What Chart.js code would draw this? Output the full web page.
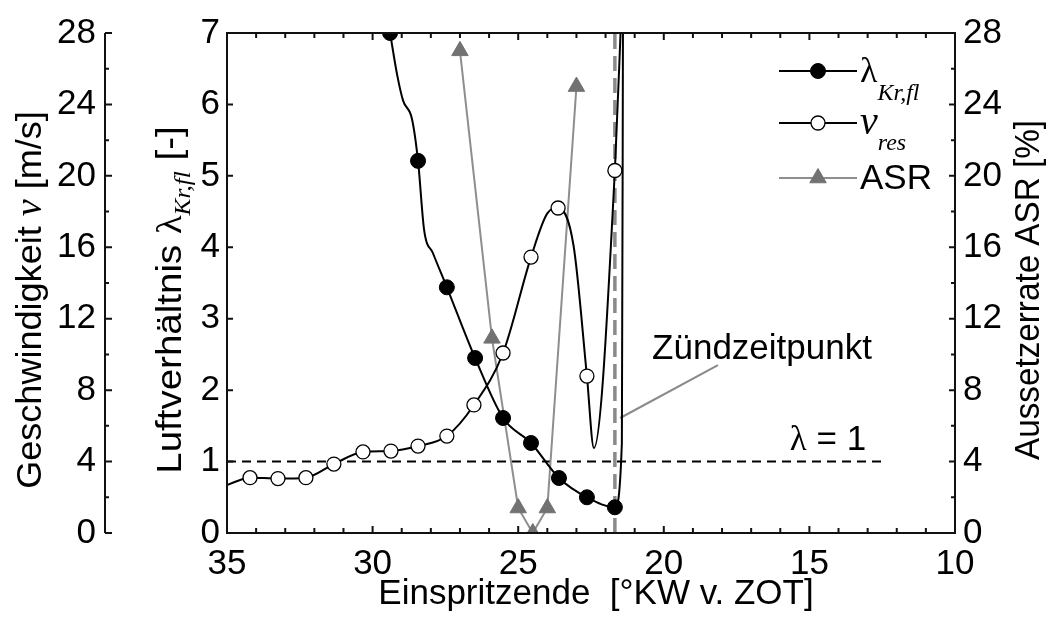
<!DOCTYPE html>
<html>
<head>
<meta charset="utf-8">
<script src="https://cdn.jsdelivr.net/npm/chart.js@4.4.1/dist/chart.umd.min.js"></script>
<style>
  html, body { margin: 0; padding: 0; background: #fff; }
</style>
</head>
<body>
<canvas id="kwChart" width="1052" height="621"></canvas>
<script>
// Luftverhältnis lambda_Kr,fl (left inner axis, 0..7)
const lambdaX = [29.4, 29.15, 28.95, 28.65, 28.44, 28.23, 27.93, 27.45, 26.48, 25.52, 24.56, 23.60, 22.64, 21.68, 21.44, 21.40];
const lambdaY = [7.0, 6.4, 6.05, 5.8, 5.21, 4.24, 3.92, 3.44, 2.45, 1.61, 1.26, 0.77, 0.50, 0.36, 1.26, 7.6];
const lambdaMarked = [1, 0, 0, 0, 1, 0, 0, 1, 1, 1, 1, 1, 1, 1, 0, 0];

// Geschwindigkeit v_res (left outer axis, 0..28 m/s)
const vX = [35.0, 34.21, 33.25, 32.29, 31.33, 30.33, 29.37, 28.44, 27.45, 26.52, 25.52, 24.56, 24.0, 23.63, 23.1, 22.64, 22.40, 21.68, 21.45];
const vY = [2.69, 3.1, 3.05, 3.1, 3.86, 4.54, 4.59, 4.87, 5.43, 7.17, 10.08, 15.45, 17.9, 18.2, 16.1, 8.79, 4.76, 20.3, 29.5];
const vMarked = [0, 1, 1, 1, 1, 1, 1, 1, 1, 1, 1, 1, 0, 1, 0, 1, 0, 1, 0];

// Aussetzerrate ASR (right axis, 0..28 %)
const asrX = [27.0, 25.9, 25.0, 24.5, 24.0, 23.0];
const asrY = [27, 10.9, 1.4, 0, 1.4, 25];

// reference lines
const lambdaOneX = [35, 12.4];
const lambdaOneY = [1, 1];
const ignitionX = [21.68, 21.68];
const ignitionY = [0, 28];
const leaderX = [18.14, 21.5];
const leaderY = [2.35, 1.61];

const xTicks = [35, 30, 25, 20, 15, 10];

const SANS = "'Liberation Sans', Arial, sans-serif";
const SERIF = "'Liberation Serif', 'Times New Roman', serif";

function pts(xs, ys) {
  return xs.map((x, i) => ({ x: x, y: ys[i] }));
}

function runsWidth(ctx, runs) {
  let w = 0;
  runs.forEach(r => { ctx.font = r.font; w += ctx.measureText(r.text).width; });
  return w;
}

// draws a row of text pieces centred on (cx, cy), cy = baseline
function drawRuns(ctx, runs, cx, cy, angle, align, stretch) {
  ctx.save();
  ctx.translate(cx, cy);
  ctx.rotate(angle || 0);
  ctx.scale(stretch || 1, 1);
  ctx.textBaseline = 'alphabetic';
  ctx.textAlign = 'left';
  let x = align === 'left' ? 0 : -runsWidth(ctx, runs) / 2;
  runs.forEach(r => {
    ctx.font = r.font;
    ctx.fillStyle = r.color || '#000';
    ctx.fillText(r.text, x, r.dy || 0);
    x += ctx.measureText(r.text).width;
  });
  ctx.restore();
}

const axisDecor = {
  id: 'axisDecor',
  afterDraw(chart) {
    const ctx = chart.ctx;
    const a = chart.chartArea;
    const sx = chart.scales.x, yL = chart.scales.yL, yV = chart.scales.yV, yA = chart.scales.yA;

    ctx.save();
    ctx.strokeStyle = '#111';
    ctx.lineWidth = 2;
    ctx.strokeRect(a.left, a.top, a.right - a.left, a.bottom - a.top);

    ctx.beginPath();
    for (let v = 10; v <= 35; v++) {
      const px = sx.getPixelForValue(v);
      const len = v % 5 === 0 ? 7 : 5;
      ctx.moveTo(px, a.bottom); ctx.lineTo(px, a.bottom - len);
      ctx.moveTo(px, a.top); ctx.lineTo(px, a.top + len);
    }
    for (let v = 0; v <= 7; v++) {
      const py = yL.getPixelForValue(v);
      ctx.moveTo(a.left, py); ctx.lineTo(a.left + 6, py);
    }
    for (let v = 0; v <= 28; v += 2) {
      const py = yA.getPixelForValue(v);
      const len = v % 4 === 0 ? 6 : 4;
      ctx.moveTo(a.right, py); ctx.lineTo(a.right - len, py);
    }
    // outer velocity axis
    const ox = yV.right;
    ctx.moveTo(ox, a.top); ctx.lineTo(ox, a.bottom);
    for (let v = 0; v <= 28; v += 2) {
      const py = yV.getPixelForValue(v);
      const len = v % 4 === 0 ? 7 : 4;
      ctx.moveTo(ox, py); ctx.lineTo(ox + len, py);
    }
    ctx.stroke();

    // axis titles
    const up = -Math.PI / 2;
    drawRuns(ctx, [
      { text: 'Geschwindigkeit ', font: '35px ' + SANS },
      { text: 'v', font: 'italic 37px ' + SERIF },
      { text: ' [m/s]', font: '35px ' + SANS }
    ], 41, 300, up, 'center', 1.03);
    drawRuns(ctx, [
      { text: 'Luftverhältnis ', font: '35px ' + SANS },
      { text: 'λ', font: '35px ' + SERIF },
      { text: 'Kr,fl', font: 'italic 23px ' + SERIF, dy: 9 },
      { text: ' [-]', font: '35px ' + SANS }
    ], 181, 300, up, 'center', 1.1);
    drawRuns(ctx, [
      { text: 'Aussetzerrate ASR [%]', font: '35px ' + SANS }
    ], 1039, 290, up, 'center', 0.95);
    drawRuns(ctx, [
      { text: 'Einspritzende  [°KW v. ZOT]', font: '35px ' + SANS }
    ], 596, 604, 0);

    // annotations
    drawRuns(ctx, [{ text: 'Zündzeitpunkt', font: '35px ' + SANS }], 762, 359, 0);
    drawRuns(ctx, [
      { text: 'λ', font: '35px ' + SERIF },
      { text: ' = 1', font: '35px ' + SANS }
    ], 828, 450, 0);

    // legend
    const legend = [
      { ds: 0, y: 71, runs: [
        { text: 'λ', font: '36px ' + SERIF },
        { text: 'Kr,fl', font: 'italic 24px ' + SERIF, dy: 18 }
      ] },
      { ds: 1, y: 123, runs: [
        { text: 'v', font: 'italic 40px ' + SERIF },
        { text: 'res', font: 'italic 24px ' + SERIF, dy: 16 }
      ] },
      { ds: 2, y: 178, runs: [
        { text: 'ASR', font: '35px ' + SANS }
      ] }
    ];
    legend.forEach(e => {
      const ds = chart.data.datasets[e.ds];
      ctx.strokeStyle = ds.borderColor;
      ctx.lineWidth = ds.borderWidth;
      ctx.setLineDash([]);
      ctx.beginPath();
      ctx.moveTo(779, e.y); ctx.lineTo(857, e.y);
      ctx.stroke();
      ctx.fillStyle = ds.pointBackgroundColor;
      ctx.strokeStyle = ds.pointBorderColor;
      ctx.lineWidth = ds.pointBorderWidth;
      ctx.beginPath();
      if (ds.pointStyle === 'triangle') {
        const r = ds.legendRadius;
        ctx.moveTo(818, e.y - r);
        ctx.lineTo(818 + r * 0.866, e.y + r / 2);
        ctx.lineTo(818 - r * 0.866, e.y + r / 2);
        ctx.closePath();
      } else {
        ctx.arc(818, e.y, ds.legendRadius, 0, Math.PI * 2);
      }
      ctx.fill();
      ctx.stroke();
      drawRuns(ctx, e.runs, 860, e.y + 11, 0, 'left');
    });
    ctx.restore();
  }
};

const tickFont = { family: SANS, size: 35 };

new Chart(document.getElementById('kwChart'), {
  type: 'line',
  data: {
    datasets: [
      {
        label: 'λKr,fl',
        data: pts(lambdaX, lambdaY),
        yAxisID: 'yL',
        borderColor: '#000',
        borderWidth: 2,
        pointStyle: 'circle',
        pointRadius: lambdaMarked.map(m => m ? 7.5 : 0),
        legendRadius: 7.5,
        pointBackgroundColor: '#000',
        pointBorderColor: '#000',
        pointBorderWidth: 1,
        cubicInterpolationMode: 'monotone',
        clip: 0,
        order: 1
      },
      {
        label: 'vres',
        data: pts(vX, vY),
        yAxisID: 'yV',
        borderColor: '#000',
        borderWidth: 2,
        pointStyle: 'circle',
        pointRadius: vMarked.map(m => m ? 7 : 0),
        legendRadius: 7,
        pointBackgroundColor: '#fff',
        pointBorderColor: '#000',
        pointBorderWidth: 1.3,
        cubicInterpolationMode: 'monotone',
        clip: 0,
        order: 0
      },
      {
        label: 'ASR',
        data: pts(asrX, asrY),
        yAxisID: 'yA',
        borderColor: '#8e8e8e',
        borderWidth: 2,
        pointStyle: 'triangle',
        pointRadius: 9.5,
        legendRadius: 9.5,
        pointBackgroundColor: '#727272',
        pointBorderColor: '#727272',
        pointBorderWidth: 1,
        tension: 0,
        clip: 0,
        order: 2
      },
      {
        label: 'lambda = 1',
        data: pts(lambdaOneX, lambdaOneY),
        yAxisID: 'yL',
        borderColor: '#000',
        borderWidth: 2,
        borderDash: [9, 6],
        pointRadius: 0,
        order: 4
      },
      {
        label: 'Zündzeitpunkt',
        data: pts(ignitionX, ignitionY),
        yAxisID: 'yA',
        borderColor: '#8a8a8a',
        borderWidth: 3.5,
        borderDash: [15, 7],
        pointRadius: 0,
        order: 3
      },
      {
        label: 'leader',
        data: pts(leaderX, leaderY),
        yAxisID: 'yL',
        borderColor: '#8a8a8a',
        borderWidth: 2,
        pointRadius: 0,
        order: 3
      }
    ]
  },
  options: {
    responsive: false,
    animation: false,
    events: [],
    layout: { padding: { top: 33, left: 0, right: 0, bottom: 0 } },
    scales: {
      x: {
        type: 'linear',
        position: 'bottom',
        reverse: true,
        min: 10,
        max: 35,
        afterBuildTicks: s => { s.ticks = xTicks.map(v => ({ value: v })); },
        ticks: { font: tickFont, color: '#000', padding: 10, maxRotation: 0, autoSkip: false },
        grid: { display: false, drawTicks: false },
        border: { display: false },
        afterFit: s => { s.height = 88; }
      },
      yL: {
        type: 'linear',
        position: 'left',
        weight: 0,
        min: 0,
        max: 7,
        ticks: { stepSize: 1, font: tickFont, color: '#000', padding: 7 },
        grid: { display: false, drawTicks: false },
        border: { display: false },
        afterFit: s => { s.width = 122; }
      },
      yV: {
        type: 'linear',
        position: 'left',
        weight: 1,
        min: 0,
        max: 28,
        ticks: { stepSize: 4, font: tickFont, color: '#000', padding: 9 },
        grid: { display: false, drawTicks: false },
        border: { display: false },
        afterFit: s => { s.width = 105; }
      },
      yA: {
        type: 'linear',
        position: 'right',
        min: 0,
        max: 28,
        ticks: { stepSize: 4, font: tickFont, color: '#000', padding: 8 },
        grid: { display: false, drawTicks: false },
        border: { display: false },
        afterFit: s => { s.width = 97; }
      }
    },
    plugins: {
      legend: { display: false },
      tooltip: { enabled: false }
    }
  },
  plugins: [axisDecor]
});
</script>
</body>
</html>
